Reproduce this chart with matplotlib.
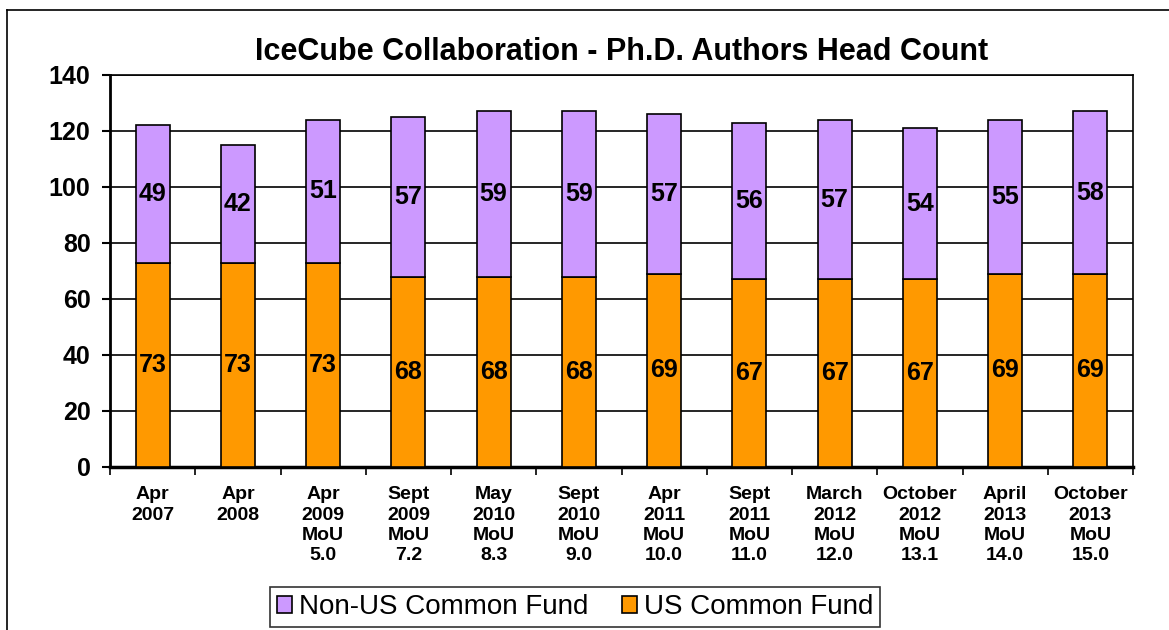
import numpy as np
import matplotlib
matplotlib.use('Agg')
import matplotlib.pyplot as plt
from matplotlib.lines import Line2D

plt.rcParams['font.family'] = ['Liberation Sans', 'DejaVu Sans']

# chart data
labels = ['Apr\n2007', 'Apr\n2008', 'Apr\n2009\nMoU\n5.0', 'Sept\n2009\nMoU\n7.2',
          'May\n2010\nMoU\n8.3', 'Sept\n2010\nMoU\n9.0', 'Apr\n2011\nMoU\n10.0',
          'Sept\n2011\nMoU\n11.0', 'March\n2012\nMoU\n12.0', 'October\n2012\nMoU\n13.1',
          'April\n2013\nMoU\n14.0', 'October\n2013\nMoU\n15.0']
us_fund = [73, 73, 73, 68, 68, 68, 69, 67, 67, 67, 69, 69]
non_us_fund = [49, 42, 51, 57, 59, 59, 57, 56, 57, 54, 55, 58]

orange = '#FF9900'
purple = '#CC99FF'

fig = plt.figure(figsize=(11.69, 6.3), dpi=100)
ax = fig.add_axes([110 / 1169, 1 - 467 / 630, 1023 / 1169, 392 / 630])

x = np.arange(len(labels))
b1 = ax.bar(x, us_fund, 0.4, color=orange, edgecolor='black', linewidth=1.2,
            label='US Common Fund', zorder=3)
b2 = ax.bar(x, non_us_fund, 0.4, bottom=us_fund, color=purple, edgecolor='black',
            linewidth=1.2, label='Non-US Common Fund', zorder=3)

# value labels in the middle of each segment
for i in range(len(x)):
    ax.text(x[i], us_fund[i] / 2, str(us_fund[i]), ha='center', va='center',
            fontsize=18, fontweight='bold', zorder=4)
    ax.text(x[i], us_fund[i] + non_us_fund[i] / 2, str(non_us_fund[i]), ha='center',
            va='center', fontsize=18, fontweight='bold', zorder=4)

ax.set_xlim(-0.5, len(labels) - 0.5)
ax.set_ylim(0, 140)
ax.set_yticks(range(0, 141, 20))
ax.yaxis.grid(True, color='black', linewidth=1.2, zorder=0)
ax.tick_params(axis='y', labelsize=18, width=1.5, length=6, pad=8)
for t in ax.get_yticklabels():
    t.set_fontweight('bold')

# category labels centred, tick marks on the boundaries
ax.set_xticks(x)
ax.set_xticklabels(labels, fontsize=14, fontweight='bold', linespacing=1.25)
ax.tick_params(axis='x', length=0, pad=14)
ax.set_xticks(np.arange(-0.5, len(labels), 1), minor=True)
ax.tick_params(axis='x', which='minor', length=6, width=1.2)

ax.spines['left'].set_linewidth(2)
ax.spines['bottom'].set_linewidth(2.5)
ax.spines['top'].set_linewidth(1.2)
ax.spines['right'].set_linewidth(1.2)

fig.text(622 / 1169, 1 - 52 / 630, 'IceCube Collaboration - Ph.D. Authors Head Count',
         ha='center', va='center', fontsize=22, fontweight='bold')

ax.legend(handles=[b2, b1], loc='center', bbox_to_anchor=(575 / 1169, 1 - 607 / 630),
          bbox_transform=fig.transFigure, ncol=2, fontsize=20, frameon=True,
          fancybox=False, edgecolor='black', handlelength=0.55, handleheight=0.55,
          handletextpad=0.25, columnspacing=1.2, borderpad=0.25, borderaxespad=0)
leg = ax.get_legend()
leg.get_frame().set_linewidth(1.2)

# outer chart frame
fig.add_artist(Line2D([7 / 1169, 7 / 1169], [0, 1 - 10 / 630], color='black', linewidth=1.2))
fig.add_artist(Line2D([7 / 1169, 1], [1 - 10 / 630, 1 - 10 / 630], color='black', linewidth=1.2))

fig.savefig('out.png', dpi=100)
